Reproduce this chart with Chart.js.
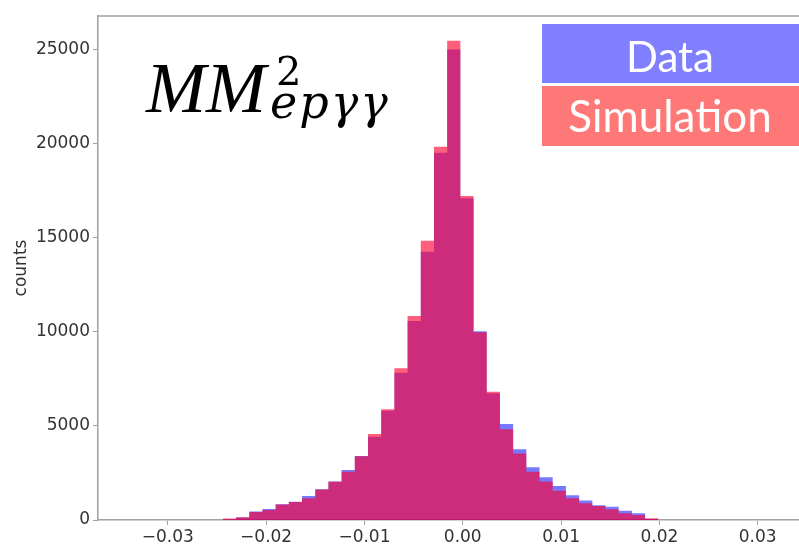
<!DOCTYPE html>
<html>
<head>
<meta charset="utf-8">
<script src="https://cdn.jsdelivr.net/npm/chart.js@4.4.1/dist/chart.umd.min.js"></script>
<style>
  html, body { margin: 0; padding: 0; background: #fff; overflow: hidden; }
  #wrap { position: relative; width: 799px; height: 546px; }
  #myChart { position: absolute; left: 0; top: 0; }
  #overlay { position: absolute; left: 0; top: 0; }
</style>
</head>
<body>
<div id="wrap">
  <canvas id="myChart" width="799" height="546"></canvas>
  <svg id="overlay" width="799" height="546" xmlns="http://www.w3.org/2000/svg">
    <text x="146" y="112" font-family="Liberation Serif" font-style="italic" font-size="72" fill="#000">MM</text>
    <text x="276" y="85" font-family="DejaVu Serif" font-size="40" fill="#000">2</text>
    <text x="270" y="118" font-family="DejaVu Serif" font-style="italic" font-size="46" letter-spacing="2" fill="#000">epγγ</text>

    <rect x="542" y="24" width="257" height="59" fill="#8080ff"/>
    <text x="670" y="72" text-anchor="middle" font-family="Lato" font-size="42" fill="#fff">Data</text>
    <rect x="542" y="86" width="257" height="60" fill="#ff7878"/>
    <text x="670" y="132" text-anchor="middle" font-family="Lato" font-size="44" fill="#fff">Simulation</text>
  </svg>
</div>
<script>
// left edges of the histogram bins, last entry is the right edge of the last bin
const binEdges = [
  -0.024400, -0.023058, -0.021716, -0.020374, -0.019032, -0.017690,
  -0.016348, -0.015006, -0.013664, -0.012322, -0.010980, -0.009638,
  -0.008296, -0.006954, -0.005612, -0.004270, -0.002928, -0.001586,
  -0.000244, 0.001098, 0.002440, 0.003782, 0.005124, 0.006466,
  0.007808, 0.009150, 0.010492, 0.011834, 0.013176, 0.014518,
  0.015860, 0.017202, 0.018544, 0.019886
];

const dataCounts = [
  40, 130, 450, 585, 840, 975, 1275,
  1630, 2040, 2660, 3400, 4430, 5800, 7830,
  10570, 14250, 19510, 25000, 17090, 10030, 6730,
  5100, 3760, 2800, 2270, 1810, 1310, 1030,
  780, 710, 490, 360, 50
];

const simCounts = [
  80, 150, 430, 530, 820, 960, 1150,
  1620, 2030, 2570, 3390, 4570, 5880, 8060,
  10840, 14840, 19830, 25460, 17210, 9980, 6820,
  4820, 3540, 2570, 2040, 1560, 1150, 890,
  740, 570, 360, 270, 90
];

const xTicks = [-0.03, -0.02, -0.01, 0.00, 0.01, 0.02, 0.03];
const yTicks = [0, 5000, 10000, 15000, 20000, 25000];

const axisGrey = '#a0a0a0';
const labelGrey = '#333333';

// one step per bin: the value holds from its left edge to the next edge
function steps(values) {
  return binEdges.map((x, i) => ({ x: x, y: i < values.length ? values[i] : 0 }));
}

// top spine of the frame (right one is cut off in the picture)
const topSpine = {
  id: 'topSpine',
  afterDraw(chart) {
    const c = chart.ctx;
    const a = chart.chartArea;
    c.save();
    c.strokeStyle = axisGrey;
    c.lineWidth = 1.5;
    c.beginPath();
    c.moveTo(a.left, a.top);
    c.lineTo(a.right, a.top);
    c.stroke();
    c.restore();
  }
};

const ctx = document.getElementById('myChart');

new Chart(ctx, {
  type: 'line',
  data: {
    datasets: [{
      label: 'Data',
      data: steps(dataCounts),
      backgroundColor: 'rgba(0, 0, 255, 0.53)',
      borderColor: 'rgba(0, 0, 0, 0)',
      borderWidth: 0,
      fill: 'origin',
      stepped: 'before',
      pointRadius: 0,
      order: 2
    }, {
      label: 'Simulation',
      data: steps(simCounts),
      backgroundColor: 'rgba(255, 0, 48, 0.63)',
      borderColor: 'rgba(0, 0, 0, 0)',
      borderWidth: 0,
      fill: 'origin',
      stepped: 'before',
      pointRadius: 0,
      order: 1
    }]
  },
  options: {
    responsive: false,
    animation: false,
    devicePixelRatio: 1,
    layout: { padding: { top: 16, right: 0, left: 0, bottom: 0 } },
    plugins: {
      legend: { display: false },
      tooltip: { enabled: false }
    },
    scales: {
      x: {
        type: 'linear',
        min: -0.0371,
        max: 0.0342,
        afterFit: s => { s.height = 26; },
        afterBuildTicks: s => { s.ticks = xTicks.map(v => ({ value: v })); },
        border: { display: true, color: axisGrey, width: 1.5 },
        grid: { drawOnChartArea: false, drawTicks: true, tickLength: 5, color: axisGrey },
        ticks: {
          padding: 2,
          color: labelGrey,
          maxRotation: 0,
          font: { family: 'DejaVu Sans', size: 17 },
          callback: v => (v < -1e-9 ? '\u2212' : '') + Math.abs(v).toFixed(2)
        }
      },
      y: {
        min: 0,
        max: 26780,
        afterFit: s => { s.width = 98; },
        afterBuildTicks: s => { s.ticks = yTicks.map(v => ({ value: v })); },
        border: { display: true, color: axisGrey, width: 1.5 },
        grid: { drawOnChartArea: false, drawTicks: true, tickLength: 5, color: axisGrey },
        title: {
          display: true,
          text: 'counts',
          color: labelGrey,
          padding: { top: 11, bottom: 0 },
          font: { family: 'DejaVu Sans', size: 17 }
        },
        ticks: {
          padding: 3,
          color: labelGrey,
          font: { family: 'DejaVu Sans', size: 17 },
          callback: v => String(v)
        }
      }
    }
  },
  plugins: [topSpine]
});
</script>
</body>
</html>
